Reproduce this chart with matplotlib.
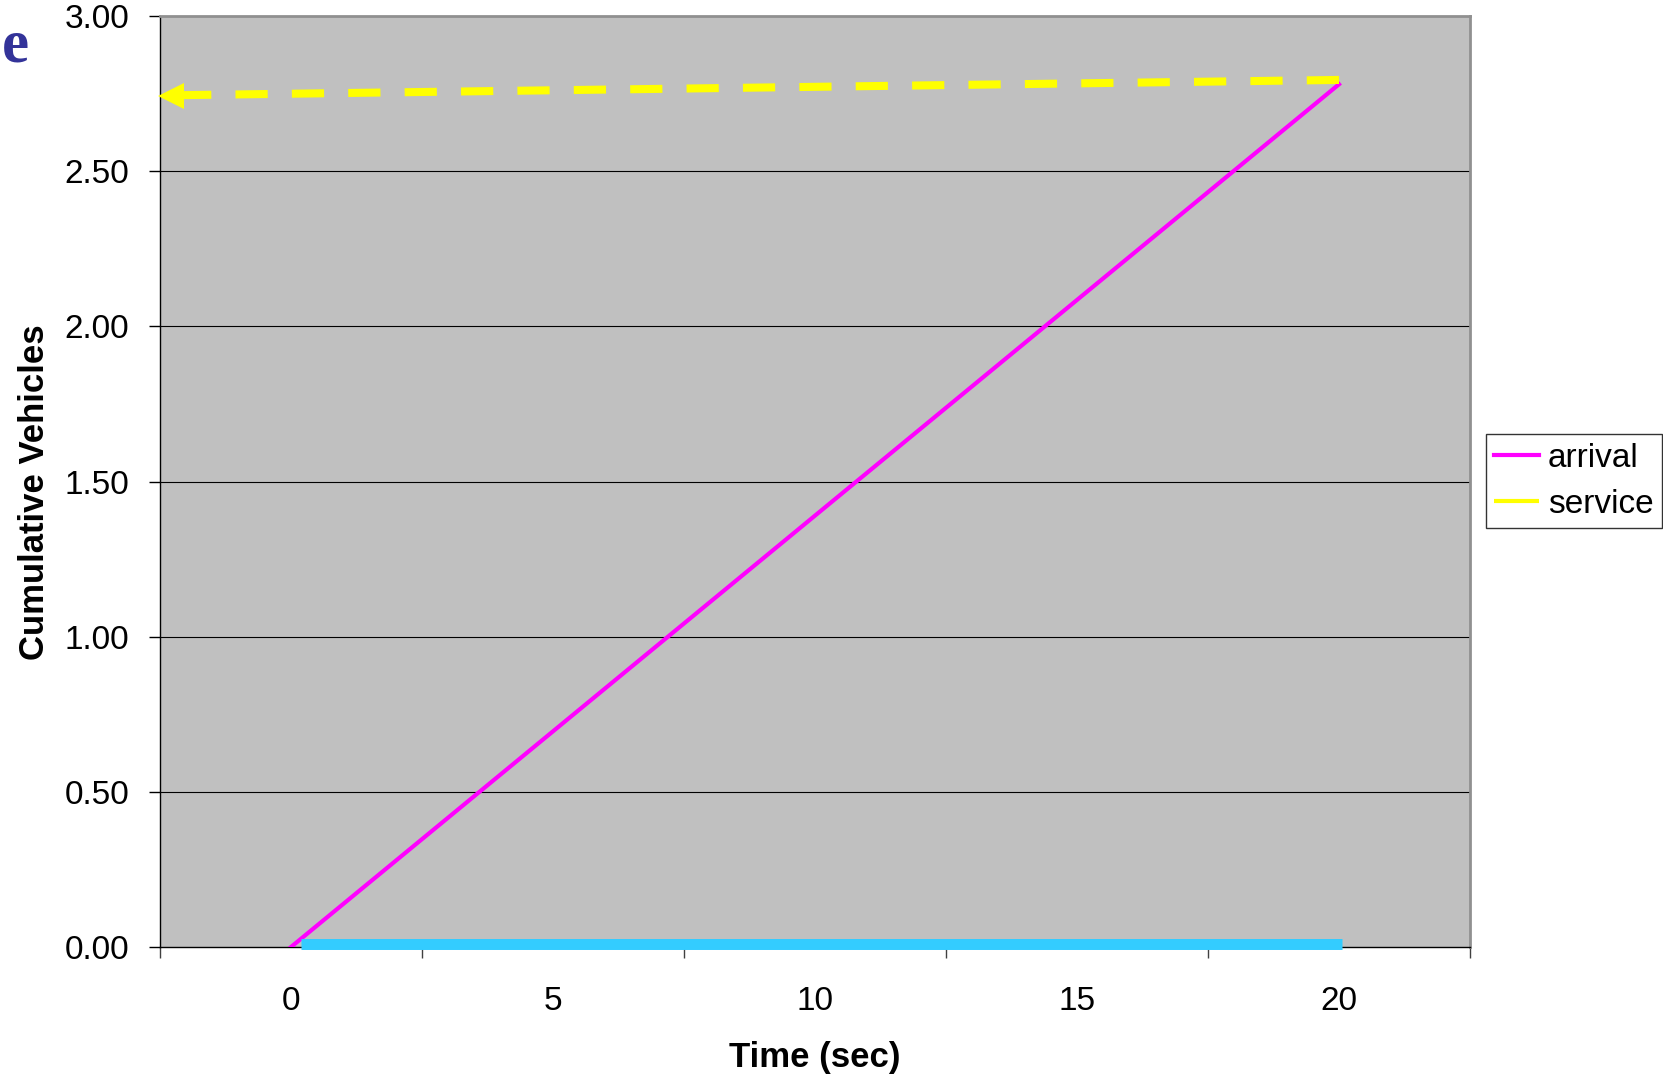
import matplotlib
matplotlib.use('Agg')
import matplotlib.pyplot as plt
import numpy as np

# data
time_arr = [0, 20]
arrival = [0, 2.78]
service_x = [20, -2.05]
service_y = [2.794, 2.745]
queue_x = [0.2, 20.05]
queue_y = [0.011, 0.011]
x_labels = [0, 5, 10, 15, 20]
y_ticks = [0.0, 0.5, 1.0, 1.5, 2.0, 2.5, 3.0]

plt.rcParams['font.family'] = ['Liberation Sans', 'DejaVu Sans']

fig = plt.figure(figsize=(16.63, 10.77), dpi=100)
ax = fig.add_axes([160 / 1663, 130 / 1077, 1310 / 1663, 931 / 1077])
ax.set_facecolor('#C0C0C0')
ax.set_xlim(-2.5, 22.5)
ax.set_ylim(0, 3)

# gridlines
for y in y_ticks[1:]:
    ax.axhline(y, color='black', lw=0.8, zorder=1)

ln_arr, = ax.plot(time_arr, arrival, color='#FF00FF', lw=3, zorder=3, label='arrival')
ln_srv, = ax.plot(service_x, service_y, color='#FFFF00', lw=5.8, dashes=(4, 3),
                  solid_capstyle='butt', dash_capstyle='butt', zorder=4, label='service')
ax.plot([-2.29], [service_y[1] - 0.003], marker='<', color='#FFFF00', markersize=19,
        markeredgewidth=0, zorder=4, clip_on=False)
ax.plot(queue_x, queue_y, color='#33CCFF', lw=7.9, solid_capstyle='butt',
        zorder=5, clip_on=False)

# ticks: Excel-style category axis (marks between labels)
ax.set_xticks(np.arange(-2.5, 23, 5))
ax.set_xticklabels([])
ax.set_xticks(x_labels, minor=True)
ax.set_xticklabels([str(v) for v in x_labels], minor=True)
ax.tick_params(axis='x', which='major', direction='out', length=8, width=1, color='#404040')
ax.tick_params(axis='x', which='minor', length=0, pad=28, labelsize=24)
ax.set_yticks(y_ticks)
ax.set_yticklabels([f'{v:.2f}' for v in y_ticks])
ax.tick_params(axis='y', direction='out', length=8, width=1, pad=14, labelsize=24)

for s in ['left', 'bottom']:
    ax.spines[s].set_color('black')
    ax.spines[s].set_linewidth(1)
for s in ['top', 'right']:
    ax.spines[s].set_color('#909090')
    ax.spines[s].set_linewidth(2)

ax.set_xlabel('Time (sec)', fontsize=25, fontweight='bold', labelpad=17)
ax.set_ylabel('Cumulative Vehicles', fontsize=25, fontweight='bold')
ax.yaxis.set_label_coords(-0.083, 0.488)

leg = fig.legend(handles=[ln_arr, ln_srv], loc='center left',
                 bbox_to_anchor=(1486 / 1663, 1 - 481 / 1077), fontsize=24,
                 frameon=True, fancybox=False, handlelength=1.35, handletextpad=0.25,
                 borderpad=0.25, labelspacing=0.45, borderaxespad=0)
leg.get_frame().set_edgecolor('black')
leg.get_frame().set_linewidth(1)
leg.legend_handles[0].set_linewidth(3)
leg.legend_handles[1].set_linewidth(3)
leg.legend_handles[1].set_linestyle('-')

fig.text(2 / 1663, 1 - 47 / 1077, 'e', family='Liberation Serif', fontweight='bold',
         fontsize=44, color='#333399', va='center', ha='left')

fig.savefig('out.png', dpi=100)
